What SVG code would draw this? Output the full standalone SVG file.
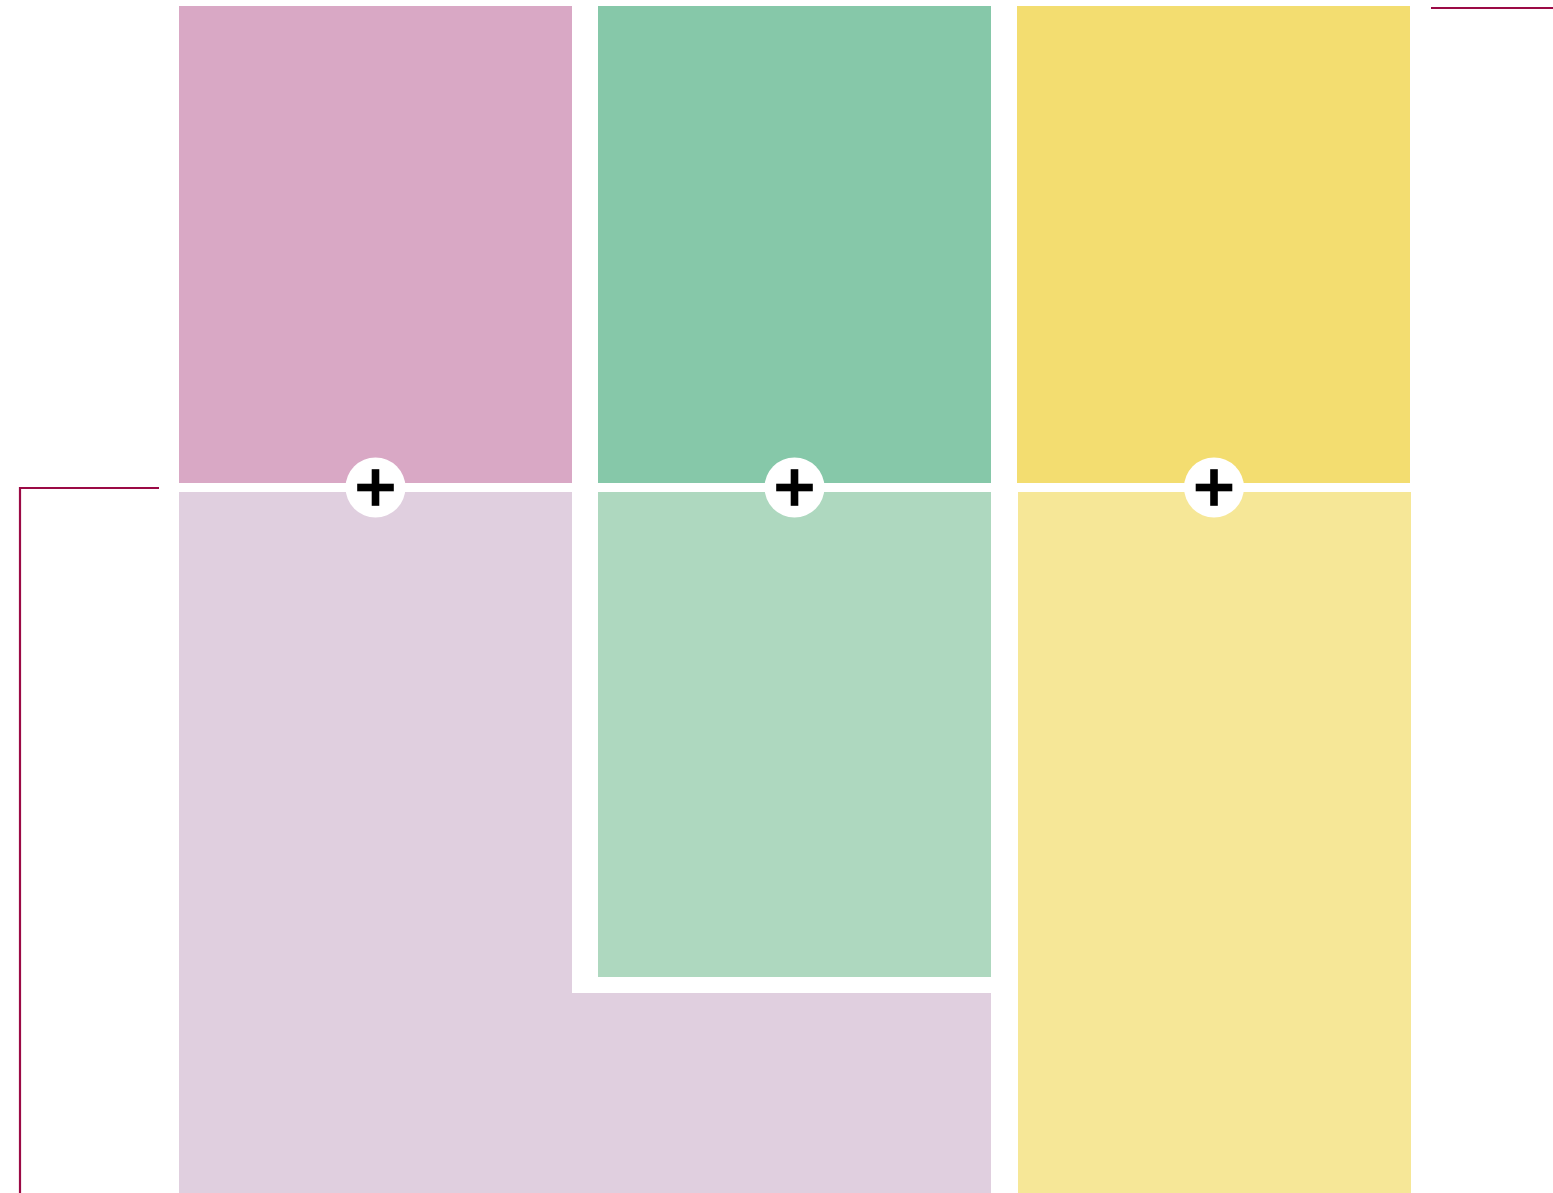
<svg xmlns="http://www.w3.org/2000/svg" width="1553" height="1193" viewBox="0 0 1553 1193">
<style>
.conn{fill:none;stroke:#9b0a45;stroke-width:2.2}
.badge circle{fill:#fff}
.badge rect{fill:#000}
</style>
<defs>
<g id="plus" class="badge">
<circle cx="0" cy="0" r="30"/>
<rect x="-18.3" y="-3.8" width="36.6" height="7.6"/>
<rect x="-3.8" y="-18.3" width="7.6" height="36.6"/>
</g>
</defs>
<rect width="1553" height="1193" fill="#fff"/>
<g id="pink-bottom"><path d="M179 492H572V993H991V1193H179Z" fill="#e0cfdf"/></g>
<g id="green-bottom"><rect x="598" y="492" width="393" height="485" fill="#aed8bf"/></g>
<g id="yellow-bottom"><rect x="1018" y="492" width="393" height="701" fill="#f6e797"/></g>
<g id="pink-top"><rect x="179" y="6" width="393" height="477" fill="#d9a8c5"/></g>
<g id="green-top"><rect x="598" y="6" width="393" height="477" fill="#86c8a9"/></g>
<g id="yellow-top"><rect x="1017" y="6" width="393" height="477" fill="#f3dd70"/></g>
<g id="connectors">
<path class="conn" d="M159 488H20V1193"/>
<path class="conn" d="M1431 8H1553"/>
</g>
<g id="plus-pink"><use href="#plus" x="375.5" y="487.5"/></g>
<g id="plus-green"><use href="#plus" x="794.5" y="487.5"/></g>
<g id="plus-yellow"><use href="#plus" x="1214" y="487.5"/></g>
</svg>
